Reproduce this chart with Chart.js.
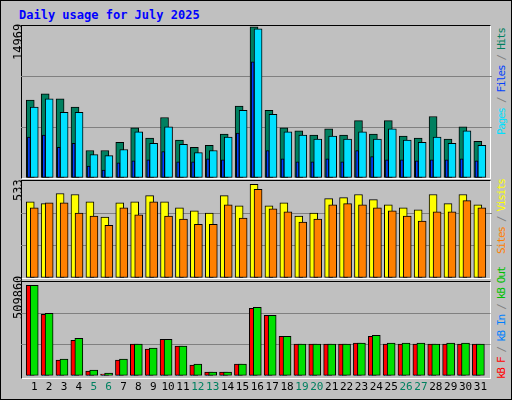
<!DOCTYPE html>
<html><head><meta charset="utf-8">
<script src="https://cdn.jsdelivr.net/npm/chart.js@4/dist/chart.umd.min.js"></script>
<style>
body{margin:0;background:#fff}
#root{position:relative;width:510px;height:398px;background:#C0C0C0;border:1px solid #000;overflow:hidden;font-family:"DejaVu Sans Mono",monospace}
.panel{position:absolute;left:20px;width:470px;border-top:1px solid #000;border-left:1px solid #000;border-right:1px solid #fff;border-bottom:1px solid #fff;box-sizing:border-box}
.cv{position:absolute}
.vt{position:absolute;writing-mode:vertical-rl;transform:rotate(180deg);font-size:12px;white-space:nowrap}
.lg{font-size:11px;letter-spacing:-1.3px}
#title{position:absolute;left:18px;top:7px;color:#0000FF;font-weight:bold;font-size:12px}
</style></head><body>
<div id="root">
<div id="title">Daily usage for July 2025</div>
<div class="panel" style="top:24px;height:154px"></div>
<div class="panel" style="top:179px;height:99px"></div>
<div class="panel" style="top:280px;height:98px"></div>
<div class="cv" style="left:20px;top:25px;width:471px;height:152px"><canvas id="c1"></canvas></div>
<div class="cv" style="left:20px;top:180px;width:471px;height:97px"><canvas id="c2"></canvas></div>
<div class="cv" style="left:20px;top:281px;width:471px;height:117px"><canvas id="c3"></canvas></div>
<div class="vt" style="left:10px;top:27px;height:32px;text-align:left">14969</div>
<div class="vt" style="left:10px;top:182px;height:18px">533</div>
<div class="vt" style="left:10px;top:281px;height:37px">509860</div>
<div class="vt lg" style="left:494px;top:28px;height:110px;text-align:right"><span style="color:#00E0FF">Pages</span><span style="color:#808080"> / </span><span style="color:#0040FF">Files</span><span style="color:#808080"> / </span><span style="color:#008060">Hits</span></div>
<div class="vt lg" style="left:494px;top:178px;height:80px;text-align:right"><span style="color:#FF8000">Sites</span><span style="color:#808080"> / </span><span style="color:#FFFF00">Visits</span></div>
<div class="vt lg" style="left:494px;top:270px;height:108px;text-align:left"><span style="color:#FF0000">kB F</span><span style="color:#808080"> / </span><span style="color:#0080FF">kB In</span><span style="color:#808080"> / </span><span style="color:#00C000">kB Out</span></div>
</div>
<script>
const days=[1,2,3,4,5,6,7,8,9,10,11,12,13,14,15,16,17,18,19,20,21,22,23,24,25,26,27,28,29,30,31];
const weekendDays=[5,6,12,13,19,20,26,27];
const hits=[7723,8335,7825,7008,2722,2722,3538,4967,3946,5988,3742,3028,3232,4355,7110,14969,6702,4967,4661,4253,4865,4253,5681,4355,5681,4150,3946,6090,3844,5069,3640];
const pages=[7008,7825,6498,6498,2313,2211,2824,4559,3436,5069,3334,2517,2722,4048,6702,14765,6294,4559,4253,3844,4150,3844,4559,3844,4865,3742,3538,4048,3436,4661,3232];
const files=[4048,4253,3028,3436,1191,782,1497,1701,1803,2620,1599,1599,1905,1803,4457,11499,2722,1905,1599,1599,1905,1599,2722,2109,1803,1803,1701,1803,1803,1905,1701];
const visits=[434,423,481,475,434,347,428,434,469,434,399,382,370,469,411,533,411,428,353,370,452,457,475,446,417,399,388,475,423,475,417];
const sites=[399,428,428,370,353,300,399,359,434,353,335,306,306,417,341,504,393,376,318,335,417,423,417,399,382,353,324,376,376,440,399];
const kbF=[509860,346690,88078,200518,26236,9370,88078,178030,149920,206140,166786,59968,20614,20614,65590,380422,341068,223006,178030,178030,178030,178030,183652,223006,178030,178030,178030,178030,178030,178030,178030];
const kbOut=[509860,352312,93700,211762,31858,14992,93700,178030,155542,206140,166786,65590,20614,20614,65590,386044,341068,223006,178030,178030,178030,178030,183652,228628,183652,183652,183652,178030,183652,183652,178030];
const kbIn=[1500,1500,1500,1500,1500,1500,1500,1500,1500,1500,1500,1500,1500,1500,1500,1500,1500,1500,1500,1500,1500,1500,1500,1500,1500,1500,1500,1500,1500,1500,1500];

function ds(label,vals,off,color,w,order){
  return {label,data:days.map((d,i)=>({x:d+off,y:vals[i]})),backgroundColor:color,borderColor:'#000',borderWidth:1,barThickness:w,order,borderSkipped:false,grouped:false};
}
function mk(id,sets,M,showX){
  new Chart(document.getElementById(id),{type:'bar',data:{datasets:sets},
  options:{responsive:true,maintainAspectRatio:false,animation:false,
    layout:{padding:0},
    plugins:{legend:{display:false},tooltip:{enabled:false}},
    scales:{
      x:{type:'linear',min:0.11,max:31.68,offset:false,display:showX,
        grid:{display:false,drawTicks:false},border:{display:false},
        afterBuildTicks:s=>{s.ticks=days.map(v=>({value:v}));},
        ticks:{autoSkip:false,maxRotation:0,padding:5,font:{family:'DejaVu Sans Mono',size:11},
          color:c=>weekendDays.includes(c.tick.value)?'#008060':'#000',callback:v=>String(v)}},
      y:{min:0,max:M,display:true,
        afterBuildTicks:s=>{s.ticks=[0,M/3,2*M/3,M].map(v=>({value:v}));},
        afterFit:s=>{s.width=0;},
        ticks:{display:false},border:{display:false},
        grid:{drawTicks:false,color:c=>(c.tick.value>1&&c.tick.value<M-1)?'#808080':'rgba(0,0,0,0)',lineWidth:1}}
    }}});
}
mk('c1',[ds('Pages',files,-0.36,'#0040FF',3,0),ds('Files',pages,0,'#00E0FF',8,1),ds('Hits',hits,-0.27,'#008060',8,2)],14969*1.005,false);
mk('c2',[ds('Sites',sites,0,'#FF8000',8,0),ds('Visits',visits,-0.27,'#FFFF00',8,1)],552,false);
mk('c3',[ds('kB In',kbIn,-0.36,'#0080FF',3,0),ds('kB Out',kbOut,0,'#00E000',8,1),ds('kB F',kbF,-0.27,'#FF0000',8,2)],528500,true);
</script>
</body></html>
